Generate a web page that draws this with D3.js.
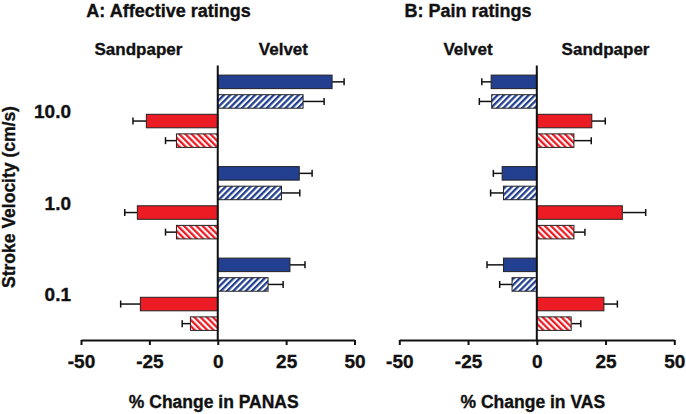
<!DOCTYPE html>
<html>
<head>
<meta charset="utf-8">
<script src="https://cdn.jsdelivr.net/npm/d3@7"></script>
<style>
  html, body { margin: 0; padding: 0; background: #fff; }
  svg { display: block; }
  text { font-family: "Liberation Sans", Arial, Helvetica, sans-serif; font-weight: bold; fill: #111; stroke: #111; stroke-width: 0.35px; }
</style>
</head>
<body>
<svg id="chart" width="686" height="414"></svg>
<script>
// ---- data ----
const categories = ["10.0", "1.0", "0.1"];
const seriesKeys = ["velvetSolid", "velvetHatched", "sandpaperSolid", "sandpaperHatched"];
const tickValues = [-50, -25, 0, 25, 50];

// Panel A: % change in PANAS (affective ratings)
const affVelvetSolid = [41.8, 29.8, 26.4];
const affVelvetSolidErr = [4.4, 4.7, 5.5];
const affVelvetHatched = [31.2, 23.3, 18.4];
const affVelvetHatchedErr = [7.7, 6.7, 5.5];
const affSandSolid = [-26.1, -29.4, -28.3];
const affSandSolidErr = [4.9, 4.6, 7.2];
const affSandHatched = [-15.1, -15.1, -10.0];
const affSandHatchedErr = [4.0, 4.0, 3.0];

// Panel B: % change in VAS (pain ratings)
const painVelvetSolid = [-16.6, -12.6, -12.1];
const painVelvetSolidErr = [3.4, 3.2, 6.0];
const painVelvetHatched = [-16.4, -12.1, -9.0];
const painVelvetHatchedErr = [4.5, 4.7, 4.5];
const painSandSolid = [20.0, 31.1, 24.4];
const painSandSolidErr = [4.9, 8.5, 4.9];
const painSandHatched = [13.5, 13.5, 12.5];
const painSandHatchedErr = [6.3, 4.0, 3.5];

// ---- drawing ----
const BLUE = "#22408f";
const RED = "#ec1c24";
const svg = d3.select("#chart");
const defs = svg.append("defs");

function hatch(id, color, angle) {
  const p = defs.append("pattern")
    .attr("id", id).attr("patternUnits", "userSpaceOnUse")
    .attr("width", 4.4).attr("height", 4.4)
    .attr("patternTransform", `rotate(${angle})`);
  p.append("rect").attr("width", 4.4).attr("height", 4.4).attr("fill", "#fff");
  p.append("rect").attr("width", 2.3).attr("height", 4.4).attr("fill", color);
}
hatch("hatchBlue", BLUE, 45);
hatch("hatchRed", RED, -45);

const fills = {
  velvetSolid: BLUE, velvetHatched: "url(#hatchBlue)",
  sandpaperSolid: RED, sandpaperHatched: "url(#hatchRed)"
};

const yTop = 65.5, yBottom = 340;
const y = d3.scaleBand().domain(categories).range([yTop, yBottom]).padding(0);
const yInner = d3.scaleBand().domain(seriesKeys).range([0, y.bandwidth()])
  .paddingInner(0.31).paddingOuter(0.49);

function build(vals, errs) {
  return categories.map((c, i) => seriesKeys.map((k, j) => ({
    cat: c, key: k, value: vals[j][i], err: errs[j][i]
  }))).flat();
}

const panels = [
  {
    title: "A: Affective ratings", xtitle: "% Change in PANAS",
    range: [81, 354.5], titleAt: -18,
    data: build([affVelvetSolid, affVelvetHatched, affSandSolid, affSandHatched],
                [affVelvetSolidErr, affVelvetHatchedErr, affSandSolidErr, affSandHatchedErr]),
    left: "Sandpaper", right: "Velvet", leftAt: -29, rightAt: 24
  },
  {
    title: "B: Pain ratings", xtitle: "% Change in VAS",
    range: [399.3, 674.3], titleAt: -25,
    data: build([painVelvetSolid, painVelvetHatched, painSandSolid, painSandHatched],
                [painVelvetSolidErr, painVelvetHatchedErr, painSandSolidErr, painSandHatchedErr]),
    left: "Velvet", right: "Sandpaper", leftAt: -25, rightAt: 25
  }
];

panels.forEach(P => {
  const x = d3.scaleLinear().domain([-50, 50]).range(P.range);
  const g = svg.append("g");
  const x0 = x(0);
  const bh = yInner.bandwidth();

  // error bars
  const eb = g.append("g").attr("stroke", "#111").attr("stroke-width", 1.5);
  P.data.forEach(d => {
    const yc = y(d.cat) + yInner(d.key) + bh / 2;
    const end = d.value + Math.sign(d.value) * d.err;
    eb.append("line").attr("x1", x(d.value)).attr("x2", x(end)).attr("y1", yc).attr("y2", yc);
    eb.append("line").attr("x1", x(end)).attr("x2", x(end)).attr("y1", yc - 3.5).attr("y2", yc + 3.5);
  });

  // bars
  g.append("g").selectAll("rect").data(P.data).join("rect")
    .attr("x", d => Math.min(x(d.value), x0))
    .attr("y", d => y(d.cat) + yInner(d.key))
    .attr("width", d => Math.abs(x(d.value) - x0))
    .attr("height", bh)
    .attr("fill", d => fills[d.key])
    .attr("stroke", "#222").attr("stroke-width", 1);

  // zero line
  g.append("line").attr("x1", x0).attr("x2", x0).attr("y1", yTop).attr("y2", yBottom)
    .attr("stroke", "#111").attr("stroke-width", 2);

  // x axis
  const ax = g.append("g").attr("transform", `translate(0,${yBottom})`)
    .call(d3.axisBottom(x).tickValues(tickValues).tickFormat(d => String(d))
      .tickSize(5).tickSizeOuter(0).tickPadding(10));
  ax.select(".domain").attr("stroke", "#111").attr("stroke-width", 2);
  ax.selectAll(".tick line").attr("stroke", "#111").attr("stroke-width", 2);
  ax.selectAll(".tick text").style("font-size", "19px").style("font-weight", "bold")
    .style("font-family", '"Liberation Sans", Arial, sans-serif').attr("fill", "#111");

  // titles
  g.append("text").attr("x", x(P.titleAt)).attr("y", 17)
    .attr("text-anchor", "middle").style("font-size", "18px").text(P.title);
  g.append("text").attr("x", x(P.leftAt)).attr("y", 55).attr("text-anchor", "middle")
    .style("font-size", "17px").text(P.left);
  g.append("text").attr("x", x(P.rightAt)).attr("y", 55).attr("text-anchor", "middle")
    .style("font-size", "17px").text(P.right);
  g.append("text").attr("x", x0 - 4).attr("y", 408).attr("text-anchor", "middle")
    .style("font-size", "17.5px").text(P.xtitle);
});

// category labels
svg.append("g").selectAll("text").data(categories).join("text")
  .attr("x", 71).attr("y", d => y(d) + y.bandwidth() / 2 + 7)
  .attr("text-anchor", "end").style("font-size", "19px").text(d => d);

// y title
svg.append("text").attr("transform", "translate(15,197) rotate(-90)")
  .attr("text-anchor", "middle").style("font-size", "17.5px").text("Stroke Velocity (cm/s)");
</script>
</body>
</html>
